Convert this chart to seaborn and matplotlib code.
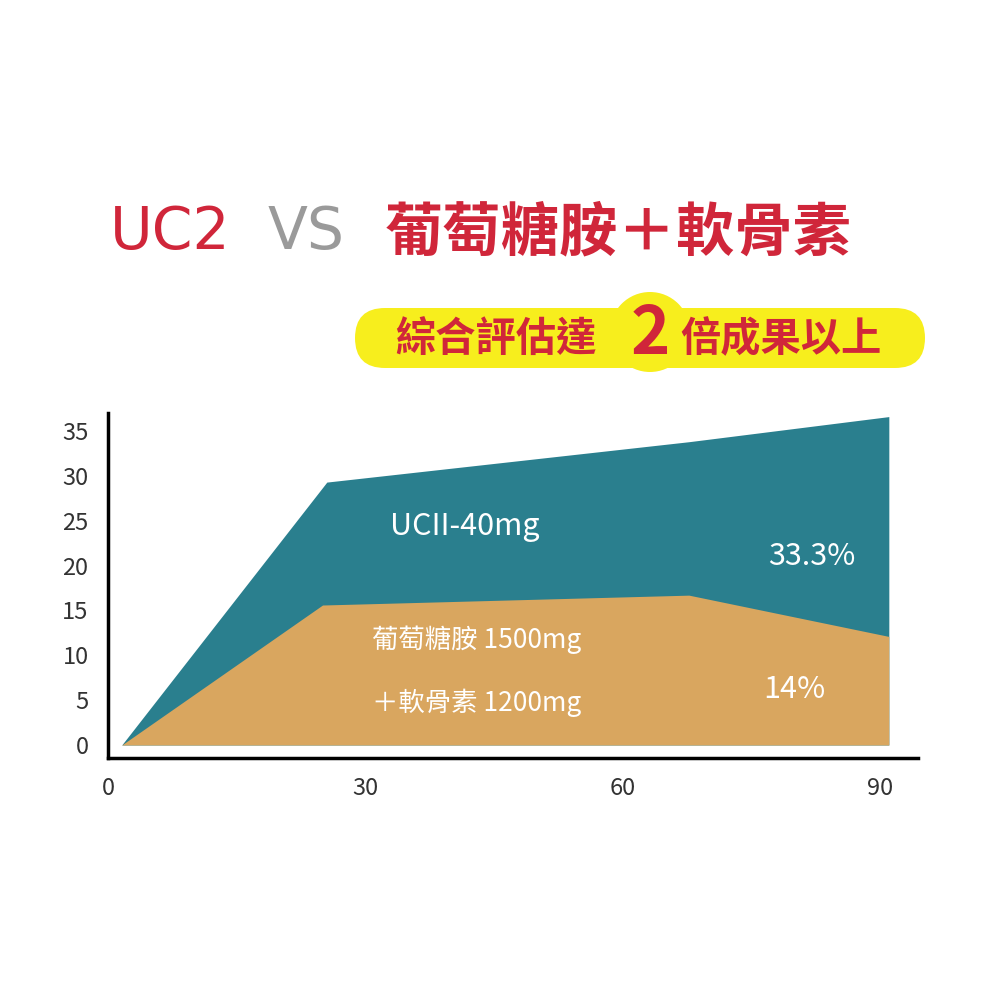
import seaborn as sns
import matplotlib.pyplot as plt
from matplotlib.patches import FancyBboxPatch, Circle

# data
days = [1.6, 25.5, 67.7, 91]
uc2 = [0, 29.3, 33.8, 36.6]
glu_days = [1.6, 25, 67.7, 91]
glu = [0, 15.6, 16.7, 12.1]
x_ticks = [0, 30, 60, 90]
y_ticks = [0, 5, 10, 15, 20, 25, 30, 35]

teal = '#2a7f8e'
orange = '#d9a65f'
red = '#d0263a'
gray = '#9a9a9a'

sns.set_style('white')
plt.rcParams['font.family'] = ['Noto Sans CJK TC', 'DejaVu Sans']

fig = plt.figure(figsize=(10, 10), dpi=100)
ax = fig.add_axes([0.108, 0.242, 0.81, 0.345])

ax.fill_between(days, uc2, color=teal, lw=0)
ax.fill_between(glu_days, glu, color=orange, lw=0)
sns.lineplot(x=days, y=uc2, ax=ax, color=teal, lw=0)

ax.set_xlim(0, 94.4)
ax.set_ylim(-1.45, 37)
ax.set_xticks(x_ticks)
ax.set_yticks(y_ticks)
ax.tick_params(length=0, labelsize=17, colors='#333333')
ax.tick_params(axis='x', pad=14)
ax.tick_params(axis='y', pad=14)
for s in ['top', 'right']:
    ax.spines[s].set_visible(False)
for s in ['left', 'bottom']:
    ax.spines[s].set_color('black')
    ax.spines[s].set_linewidth(2.5)

ax.text(32.9, 24.4, 'UCII-40mg', color='white', fontsize=22, va='center')
ax.text(82, 21, '33.3%', color='white', fontsize=22, ha='center', va='center')
ax.text(30.8, 11.7, '葡萄糖胺 1500mg', color='white', fontsize=19, va='center')
ax.text(30.8, 4.7, '＋軟骨素 1200mg', color='white', fontsize=19, va='center')
ax.text(80, 6.2, '14%', color='white', fontsize=22, ha='center', va='center')

# title
fig.text(0.11, 0.767, 'UC2', color=red, fontsize=42, va='center', family=['DejaVu Sans'])
fig.text(0.268, 0.767, 'VS', color=gray, fontsize=42, va='center', family=['DejaVu Sans'])
fig.text(0.385, 0.767, '葡萄糖胺＋軟骨素', color=red, fontsize=42, va='center', weight='bold')

# yellow banner
pill = FancyBboxPatch((0.355, 0.632), 0.57, 0.06, boxstyle='round,pad=0,rounding_size=0.03',
                      transform=fig.transFigure, facecolor='#f7ee1d', edgecolor='none')
fig.patches.append(pill)
circ = Circle((0.65, 0.668), 0.04, transform=fig.transFigure, facecolor='#f7ee1d', edgecolor='none')
fig.patches.append(circ)
fig.text(0.395, 0.66, '綜合評估達', color=red, fontsize=29, va='center', weight='bold')
fig.text(0.65, 0.665, '2', color=red, fontsize=48, va='center', ha='center', weight='bold')
fig.text(0.68, 0.66, '倍成果以上', color=red, fontsize=29, va='center', weight='bold')

plt.savefig('out.png', dpi=100)
